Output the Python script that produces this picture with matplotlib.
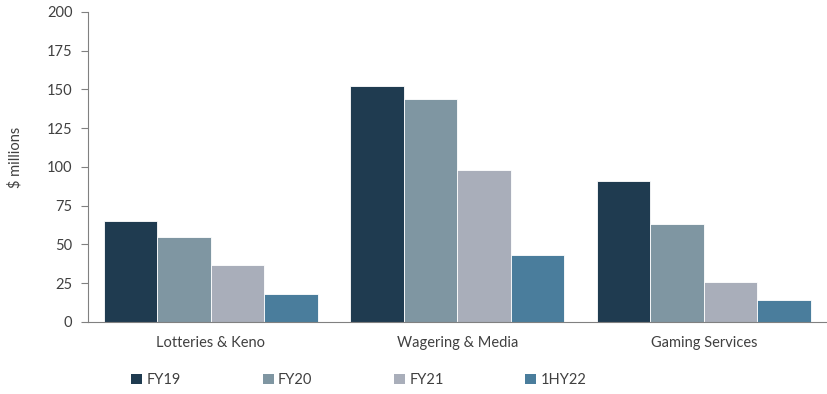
import numpy as np
import matplotlib.pyplot as plt
from matplotlib.patches import Patch

plt.rcParams['font.family'] = ['Lato', 'DejaVu Sans']

categories = ["Lotteries & Keno", "Wagering & Media", "Gaming Services"]
series = ["FY19", "FY20", "FY21", "1HY22"]
fy19 = [65, 152, 91]
fy20 = [55, 144, 63]
fy21 = [37, 98, 26]
hy22 = [18, 43, 14]
values = [fy19, fy20, fy21, hy22]
colors = ["#1f3b50", "#7f96a2", "#a9aeba", "#4a7d9c"]

fig = plt.figure(figsize=(8.27, 3.94), dpi=100)
ax = fig.add_axes([0.106, 0.183, 0.894, 0.787])

x = np.arange(len(categories))
w = 0.217
for i, (name, vals) in enumerate(zip(series, values)):
    ax.bar(x + (i - 1.5) * w, vals, width=w, color=colors[i],
           edgecolor='white', linewidth=0.6, label=name)

ax.set_xlim(-0.5, 2.5)
ax.set_ylim(0, 200)
ax.set_yticks(np.arange(0, 201, 25))
ax.set_xticks(x)
ax.set_xticklabels(categories)

grey = '#808080'
for s in ['top', 'right']:
    ax.spines[s].set_visible(False)
ax.spines['left'].set_color(grey)
ax.spines['bottom'].set_color(grey)
ax.tick_params(axis='x', length=0, pad=10, labelsize=10.5, labelcolor='#404040')
ax.tick_params(axis='y', length=5, color=grey, labelsize=10.5, labelcolor='#404040', pad=6)
ax.set_ylabel('$ millions', fontsize=10.5, color='#404040')
ax.yaxis.set_label_coords(-0.088, 0.53)

handles = [Patch(facecolor=c, edgecolor='none') for c in colors]
fig.legend(handles, series, loc='center left', bbox_to_anchor=(0.143, 0.035),
           ncol=4, frameon=False, fontsize=10.5, handlelength=0.75, handleheight=0.75,
           handletextpad=0.3, columnspacing=5.6, labelcolor='#404040')

fig.savefig('out.png', dpi=100)
